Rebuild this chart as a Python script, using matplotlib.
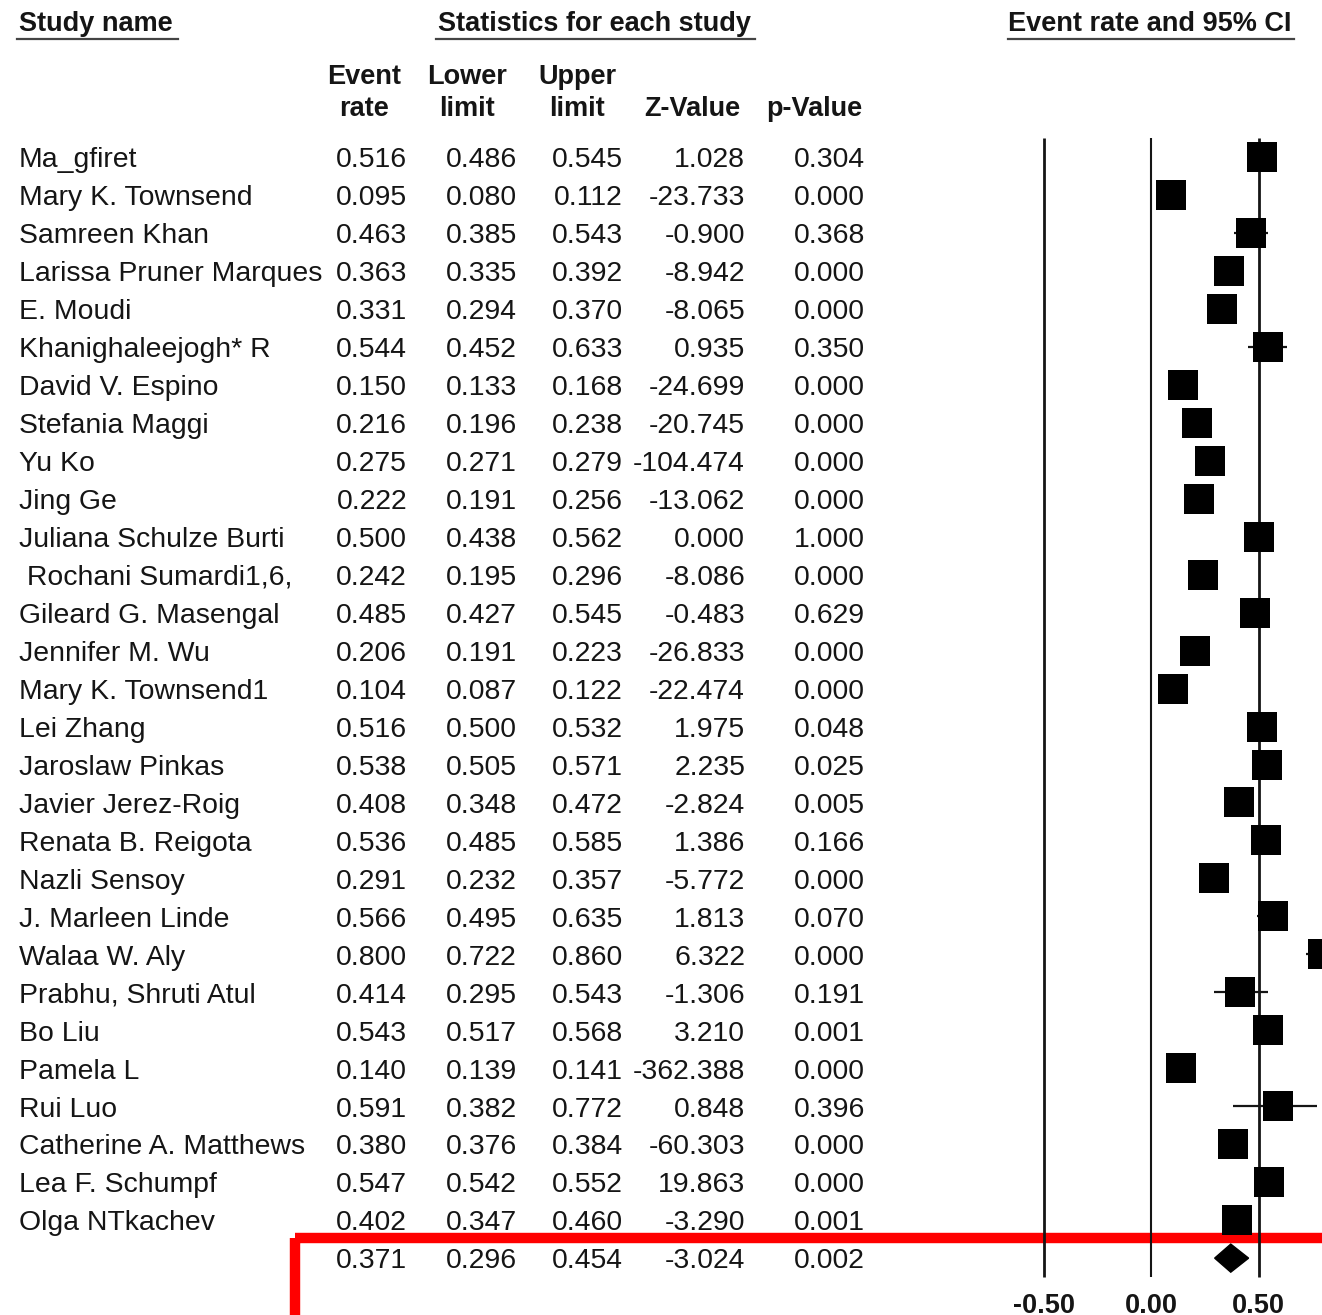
import matplotlib
matplotlib.use("Agg")
import matplotlib.pyplot as plt
import matplotlib.patches as patches

plt.rcParams['font.family'] = ['Liberation Sans', 'DejaVu Sans']

# study level results
studies = ["Ma_gfiret", "Mary K. Townsend", "Samreen Khan", "Larissa Pruner Marques",
           "E. Moudi", "Khanighaleejogh* R", "David V. Espino", "Stefania Maggi",
           "Yu Ko", "Jing Ge", "Juliana Schulze Burti", " Rochani Sumardi1,6,",
           "Gileard G. Masengal", "Jennifer M. Wu", "Mary K. Townsend1", "Lei Zhang",
           "Jaroslaw Pinkas", "Javier Jerez-Roig", "Renata B. Reigota", "Nazli Sensoy",
           "J. Marleen Linde", "Walaa W. Aly", "Prabhu, Shruti Atul", "Bo Liu",
           "Pamela L", "Rui Luo", "Catherine A. Matthews", "Lea F. Schumpf",
           "Olga NTkachev"]
event_rate = [0.516, 0.095, 0.463, 0.363, 0.331, 0.544, 0.150, 0.216, 0.275, 0.222,
              0.500, 0.242, 0.485, 0.206, 0.104, 0.516, 0.538, 0.408, 0.536, 0.291,
              0.566, 0.800, 0.414, 0.543, 0.140, 0.591, 0.380, 0.547, 0.402]
lower = [0.486, 0.080, 0.385, 0.335, 0.294, 0.452, 0.133, 0.196, 0.271, 0.191,
         0.438, 0.195, 0.427, 0.191, 0.087, 0.500, 0.505, 0.348, 0.485, 0.232,
         0.495, 0.722, 0.295, 0.517, 0.139, 0.382, 0.376, 0.542, 0.347]
upper = [0.545, 0.112, 0.543, 0.392, 0.370, 0.633, 0.168, 0.238, 0.279, 0.256,
         0.562, 0.296, 0.545, 0.223, 0.122, 0.532, 0.571, 0.472, 0.585, 0.357,
         0.635, 0.860, 0.543, 0.568, 0.141, 0.772, 0.384, 0.552, 0.460]
z_value = [1.028, -23.733, -0.900, -8.942, -8.065, 0.935, -24.699, -20.745, -104.474,
           -13.062, 0.000, -8.086, -0.483, -26.833, -22.474, 1.975, 2.235, -2.824,
           1.386, -5.772, 1.813, 6.322, -1.306, 3.210, -362.388, 0.848, -60.303,
           19.863, -3.290]
p_value = [0.304, 0.000, 0.368, 0.000, 0.000, 0.350, 0.000, 0.000, 0.000, 0.000,
           1.000, 0.000, 0.629, 0.000, 0.000, 0.048, 0.025, 0.005, 0.166, 0.000,
           0.070, 0.000, 0.191, 0.001, 0.000, 0.396, 0.000, 0.000, 0.001]

# pooled estimate
pooled = (0.371, 0.296, 0.454, -3.024, 0.002)

ticks = [-0.50, 0.00, 0.50]
tick_labels = ["-0.50", "0.00", "0.50"]

W, H = 1322, 1315
row0_px, row_step = 157, 37.97
ink = '#151515'

fig = plt.figure(figsize=(W / 100, H / 100), dpi=100)

ylim = ((H - row0_px) / row_step, -row0_px / row_step)

# table part: x in pixels, y in rows
tab = fig.add_axes([0, 0, 1, 1])
tab.set_xlim(0, W)
tab.set_ylim(*ylim)
tab.axis('off')

def px_row(y):
    return (y - row0_px) / row_step

hdr = dict(fontsize=19.5, fontweight='bold', color=ink)
tab.text(19, px_row(31), "Study name", ha='left', va='baseline', **hdr)
tab.text(595, px_row(31), "Statistics for each study", ha='center', va='baseline', **hdr)
tab.text(1150, px_row(31), "Event rate and 95% CI", ha='center', va='baseline', **hdr)
for x0, x1 in [(17, 178), (436, 755), (1008, 1294)]:
    tab.plot([x0, x1], [px_row(39)] * 2, color='#444444', lw=1.6)

col_heads = [(364, "Event", "rate"), (467, "Lower", "limit"), (577, "Upper", "limit"),
             (692, "", "Z-Value"), (814, "", "p-Value")]
for x, top, bottom in col_heads:
    if top:
        tab.text(x, px_row(84), top, ha='center', va='baseline', **hdr)
    tab.text(x, px_row(116), bottom, ha='center', va='baseline', **hdr)

col_right = [407, 517, 623, 745, 865]
body = dict(fontsize=20.4, color=ink, va='baseline')
base = 0.27
for i, name in enumerate(studies):
    tab.text(19, i + base, name, ha='left', **body)
    vals = [event_rate[i], lower[i], upper[i], z_value[i], p_value[i]]
    for x, v in zip(col_right, vals):
        tab.text(x, i + base, f"{v:.3f}", ha='right', **body)

n = len(studies)
for x, v in zip(col_right, pooled):
    tab.text(x, n + base, f"{v:.3f}", ha='right', **body)

# forest plot part
ax = fig.add_axes([980 / W, 0, (W - 980) / W, 1])
ax.set_xlim((980 - 1151) / 215, (W - 1151) / 215)
ax.set_ylim(*ylim)
ax.axis('off')

for t in ticks:
    ax.plot([t, t], [-0.5, n + 0.5], color=ink, lw=1.5 if t == 0 else 2.0,
            solid_capstyle='butt')
    ax.text(t, px_row(1313), tick_labels[ticks.index(t)], ha='center', va='baseline', **hdr)

rows = list(range(n))
ax.hlines(rows, lower, upper, color=ink, lw=1.6)
ax.plot(event_rate, rows, linestyle='none', marker='s', markersize=21.6,
        color='black', markeredgewidth=0)

est, lo, hi = pooled[:3]
h = 0.37
ax.add_patch(patches.Polygon([(lo, n), (est, n - h), (hi, n), (est, n + h)],
                             closed=True, facecolor='black', edgecolor='black'))

# highlight box around pooled row
box = patches.Rectangle((295, px_row(1238)), 1200, px_row(1500) - px_row(1238),
                        fill=False, edgecolor='#ff0000', lw=7.5)
tab.add_patch(box)

fig.savefig("out.png", dpi=100)
